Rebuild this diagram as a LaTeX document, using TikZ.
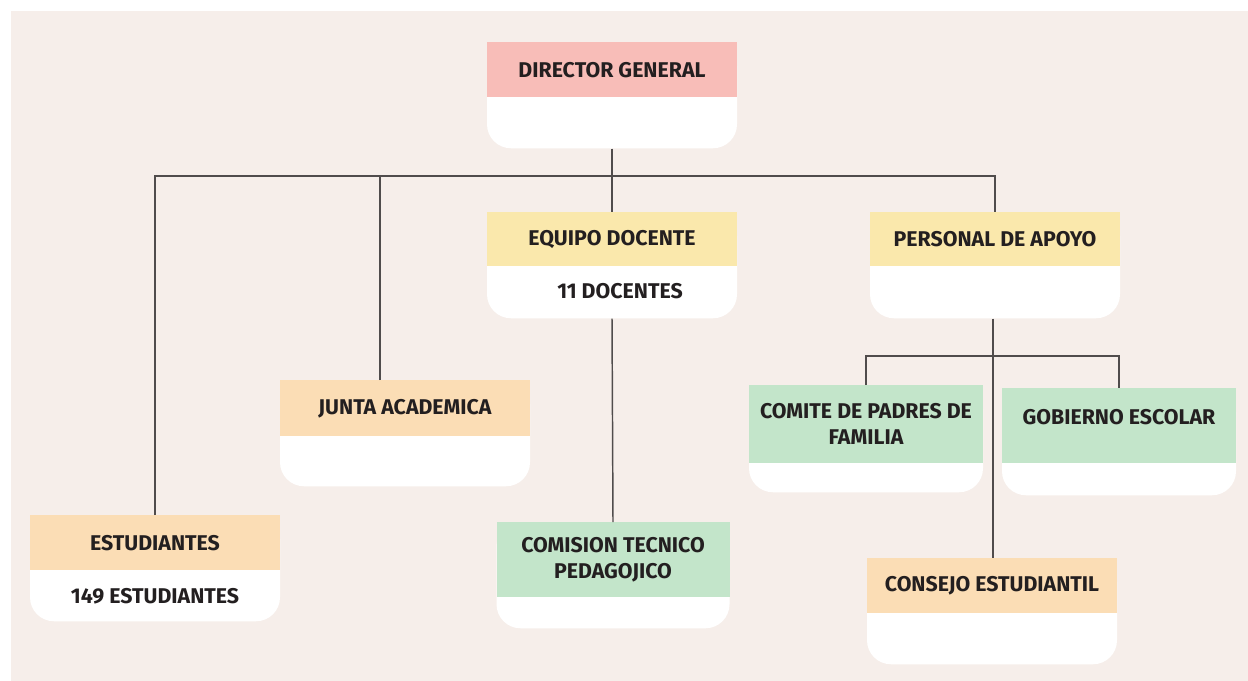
\documentclass[tikz,border=0pt]{standalone}
\usepackage{fontspec}
\setmainfont{Fira Sans}
\usepackage{tikz}
\usetikzlibrary{positioning,calc}
\definecolor{paper}{RGB}{246,238,234}
\definecolor{pinkhead}{RGB}{248,189,184}
\definecolor{yellowhead}{RGB}{250,232,172}
\definecolor{peachhead}{RGB}{251,221,181}
\definecolor{greenhead}{RGB}{195,229,202}
\definecolor{linegray}{RGB}{80,76,76}
\definecolor{inkdark}{RGB}{35,31,32}
\newcommand{\boxfont}{\fontsize{16}{19.5}\selectfont\bfseries\color{inkdark}}
\tikzset{
        base/.style = {fill=white, rectangle, rounded corners=18pt,
            anchor=north, inner sep=0pt,
            minimum width=187.5pt,
            minimum height=79.5pt},
        head/.style = {rectangle, anchor=north, inner sep=0pt,
            minimum width=187.5pt,
            minimum height=41.25pt,
            align=center, font=\boxfont},
        note/.style = {inner sep=0pt, font=\boxfont},
        link/.style = {draw=linegray, line width=1.1pt},
    }

\begin{document}
\begin{tikzpicture}[x=0.75pt,y=0.75pt,yscale=-1,xscale=1]
\useasboundingbox (0,0) rectangle (1248,681);
\fill[white] (0,0) rectangle (1248,681);
\fill[paper] (11,11) rectangle (1248,681);

% Director
\node [base] (dirb) at (612,42) {};
\node [head, fill=pinkhead] (dirh) at (dirb.north) {DIRECTOR GENERAL};
% Equipo docente
\node [base] (equb) at (612,212) {};
\node [head, fill=yellowhead, minimum height=40.5pt] (equh) at (equb.north) {EQUIPO DOCENTE};
\node [note] (equn) at (620,291) {11 DOCENTES};
% Personal de apoyo
\node [base] (perb) at (995,212) {};
\node [head, fill=yellowhead, minimum height=40.5pt] (perh) at (perb.north) {PERSONAL DE APOYO};
% Junta academica
\node [base] (junb) at (405,380) {};
\node [head, fill=peachhead, minimum height=42pt] (junh) at (junb.north) {JUNTA ACADEMICA};
% Estudiantes
\node [base] (estb) at (155,515) {};
\node [head, fill=peachhead] (esth) at (estb.north) {ESTUDIANTES};
\node [note] (estn) at (155,596) {149 ESTUDIANTES};
% Comision tecnico pedagojico
\node [base, minimum width=174.75pt] (comb) at (613,522) {};
\node [head, fill=greenhead, minimum width=174.75pt, minimum height=56.25pt] (comh) at (comb.north) {COMISION TECNICO\\PEDAGOJICO};
% Comite de padres de familia
\node [base, minimum width=175.5pt, minimum height=80.25pt] (cpfb) at (866,385) {};
\node [head, fill=greenhead, minimum width=175.5pt, minimum height=58.5pt] (cpfh) at (cpfb.north) {COMITE DE PADRES DE\\FAMILIA};
% Gobierno escolar
\node [base, minimum width=175.5pt, minimum height=80.25pt] (gobb) at (1119,388) {};
\node [head, fill=greenhead, minimum width=175.5pt, minimum height=56.25pt, text depth=14pt] (gobh) at (gobb.north) {GOBIERNO ESCOLAR};
% Consejo estudiantil
\node [base] (conb) at (992,558) {};
\node [head, fill=peachhead] (conh) at (conb.north) {CONSEJO ESTUDIANTIL};

% Lines
\coordinate (bus) at (612,176);
\coordinate (juntop) at (380,380);
\coordinate (split) at (993,356);
\draw [link] (dirb.south) -- (equh.north);
\draw [link] (esth.north) |- (bus) -| (perh.north);
\draw [link] (juntop) -- (juntop |- bus);
\draw [link] (equb.south) -- (comh.north);
\draw [link] (perb.south -| split) -- (conh.north -| split);
\draw [link] (cpfh.north) |- (split) -| (gobh.north);

\end{tikzpicture}
\end{document}
